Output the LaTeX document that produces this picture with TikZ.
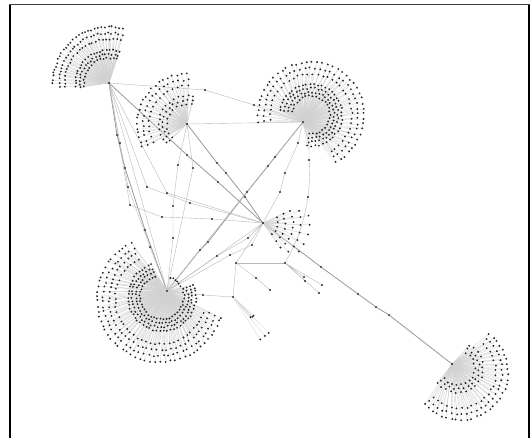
\documentclass[tikz,border=0pt]{standalone}
\usepackage{tikz}
\usetikzlibrary{calc, backgrounds}

% one arc of leaves round a hub
\newcommand{\fanrow}[6]{%
  \foreach \k in {1,...,#6}{%
    \pgfmathsetmacro{\ang}{(#4)+((#5)-(#4))*(\k-0.5)/(#6)+1.2*rand}%
    \pgfmathsetmacro{\rad}{(#3)+0.8*rand}%
    \node[dot] (leaf) at ($(#2)+(\ang:\rad)$) {};%
    \path[spoke] (#1) edge (leaf);%
  }%
}

\begin{document}
\begin{tikzpicture}[x=1pt, y=1pt]
\tikzstyle{dot}=[circle, fill=black!85, inner sep=0pt, minimum size=2.1pt]
\tikzstyle{hub}=[circle, fill=black, inner sep=0pt, minimum size=2.4pt]
\tikzstyle{spoke}=[-, draw=black!18, line width=0.3pt]
\tikzstyle{link}=[-, draw=black!28, line width=0.4pt]
\tikzstyle{trunk}=[-, draw=black!40, line width=0.8pt]

\pgfmathsetseed{7}
\useasboundingbox (0,0) rectangle (532,-438);
\draw[line width=2pt] (10,-438) -- (10,-4.5);
\draw[line width=2pt] (528.5,-4.5) -- (528.5,-438);
\draw[line width=1.2pt, black!75] (9,-4.5) -- (529.5,-4.5);

% hubs
\node (nw) [hub] at (109,-83) {};
\node (north) [hub] at (187,-124) {};
\node (ne) [hub] at (303,-122) {};
\node (sw) [hub] at (167,-291) {};
\node (se) [hub] at (452,-364) {};
\node (core) [hub] at (263,-223) {};

\coordinate (necen) at (311,-115);
\coordinate (swout) at (160,-299);
\coordinate (swin) at (162,-297);
\coordinate (seout) at (460,-372);
\coordinate (sein) at (458,-368);

% fans, outer rows first
\fanrow{nw}{nw}{56}{74}{182}{30}
\fanrow{nw}{nw}{50}{72}{186}{27}
\fanrow{nw}{nw}{44}{72}{188}{24}
\fanrow{nw}{nw}{33}{68}{190}{21}
\fanrow{nw}{nw}{29}{68}{192}{19}
\fanrow{nw}{nw}{25}{68}{192}{16}

\fanrow{north}{north}{50}{87}{210}{22}
\fanrow{north}{north}{44}{85}{212}{19}
\fanrow{north}{north}{38}{85}{212}{16}
\fanrow{north}{north}{28}{72}{228}{15}
\fanrow{north}{north}{24}{70}{230}{13}
\fanrow{north}{north}{20}{70}{230}{11}

\fanrow{ne}{necen}{53}{-65}{190}{44}
\fanrow{ne}{necen}{47}{-65}{190}{40}
\fanrow{ne}{necen}{41}{-65}{190}{36}
\fanrow{ne}{necen}{31}{-100}{175}{38}
\fanrow{ne}{necen}{27}{-100}{175}{34}
\fanrow{ne}{necen}{23}{-100}{175}{30}
\fanrow{ne}{necen}{19}{-100}{175}{26}

\fanrow{sw}{swout}{63}{115}{346}{50}
\fanrow{sw}{swout}{57}{115}{346}{46}
\fanrow{sw}{swout}{51}{115}{346}{42}
\fanrow{sw}{swout}{45}{115}{346}{38}
\fanrow{sw}{swin}{34}{105}{385}{46}
\fanrow{sw}{swin}{30}{105}{385}{42}
\fanrow{sw}{swin}{26}{105}{385}{38}
\fanrow{sw}{swin}{22}{105}{385}{34}
\fanrow{sw}{sw}{14}{15}{80}{6}

\fanrow{se}{seout}{48}{-140}{55}{32}
\fanrow{se}{seout}{42}{-140}{55}{28}
\fanrow{se}{seout}{36}{-140}{55}{24}
\fanrow{se}{sein}{25}{-150}{70}{18}
\fanrow{se}{sein}{21}{-150}{70}{16}
\fanrow{se}{sein}{17}{-150}{70}{14}

\fanrow{core}{core}{46}{-45}{15}{5}
\fanrow{core}{core}{38}{-55}{25}{7}
\fanrow{core}{core}{30}{-60}{30}{8}
\fanrow{core}{core}{22}{-60}{30}{7}
\fanrow{core}{core}{15}{-60}{30}{5}

% dots on the links
\node (w1) [dot] at (117,-135) {};
\node (w2) [dot] at (120,-143) {};
\node (w3) [dot] at (125,-168) {};
\node (w4) [dot] at (128,-187) {};
\node (w5) [dot] at (130,-205) {};
\node (w6) [dot] at (145,-230) {};
\node (w7) [dot] at (150,-247) {};
\node (d1) [dot] at (187,-155) {};
\node (d2) [dot] at (218,-182) {};
\node (e1) [dot] at (321,-267) {};
\node (e2) [dot] at (358,-294) {};
\node (e3) [dot] at (376,-307) {};
\node (e4) [dot] at (389,-315) {};
\node (t1) [dot] at (205,-90) {};
\node (t2) [dot] at (254,-105) {};
\node (b1) [dot] at (217,-163) {};
\node (b2) [dot] at (226,-173) {};
\node (b3) [dot] at (245,-197) {};
\node (c1) [dot] at (275,-157) {};
\node (c2) [dot] at (268,-166) {};
\node (c3) [dot] at (247,-192) {};
\node (c4) [dot] at (208,-242) {};
\node (c5) [dot] at (200,-250) {};
\node (f1) [dot] at (298,-143) {};
\node (f2) [dot] at (285,-173) {};
\node (f3) [dot] at (280,-192) {};
\node (r1) [dot] at (309,-160) {};
\node (r2) [dot] at (308,-197) {};
\node (j) [dot] at (285,-263) {};
\node (h) [dot] at (236,-263) {};
\node (g) [dot] at (233,-297) {};
\node (s1) [dot] at (203,-295) {};
\node (l1) [dot] at (147,-187) {};
\node (l2) [dot] at (190,-203) {};
\node (l3) [dot] at (162,-217) {};
\node (l4) [dot] at (212,-219) {};
\node (l5) [dot] at (167,-193) {};
\node (n1) [dot] at (178,-165) {};
\node (n2) [dot] at (173,-206) {};
\node (n3) [dot] at (173,-238) {};
\node (n4) [dot] at (193,-168) {};
\node (m1) [dot] at (217,-256) {};
\node (m2) [dot] at (230,-255) {};
\node (m3) [dot] at (248,-238) {};
\node (m4) [dot] at (252,-245) {};
\node (k1) [dot] at (304,-277) {};
\node (k2) [dot] at (305,-281) {};
\node (k3) [dot] at (322,-285) {};
\node (k4) [dot] at (319,-293) {};
\node (q1) [dot] at (256,-278) {};
\node (q2) [dot] at (270,-290) {};

\fanrow{g}{g}{50}{-60}{-42}{3}
\fanrow{g}{g}{27}{-50}{-40}{3}

% links
\begin{pgfonlayer}{background}
\draw[trunk] (nw) -- (w1) -- (w3) -- (w6) -- (sw);
\draw[link] (nw) -- (w2) -- (w4) -- (w7) -- (sw);
\draw[link] (nw) -- (w5);
\draw[link] (nw) -- (sw);
\draw[trunk] (nw) -- (d1) -- (d2) -- (core);
\draw[trunk] (core) -- (e1) -- (e2) -- (e3) -- (e4) -- (se);
\draw[link] (nw) -- (t1) -- (t2) -- (ne);
\draw[link] (north) -- (ne);
\draw[trunk] (north) -- (b1) -- (b2) -- (b3) -- (core);
\draw[trunk] (ne) -- (c1) -- (c2) -- (c3) -- (c4) -- (c5) -- (sw);
\draw[link] (ne) -- (sw);
\draw[link] (ne) -- (f1) -- (f2) -- (f3) -- (core);
\draw[link] (ne) to[bend left=10] (r1) to[bend left=5] (r2) to[bend left=10] (j);
\draw[link] (sw) -- (s1) -- (g);
\draw[link] (g) -- (h) -- (core);
\draw[link] (h) -- (j);
\draw[link] (j) -- (k1) (j) -- (k2) (j) -- (k3) (j) -- (k4);
\draw[link] (h) -- (q1) -- (q2);
\draw[link] (nw) -- (l1) -- (l2) -- (core);
\draw[link] (w5) -- (l3) -- (l4) -- (core);
\draw[link] (nw) -- (l5) -- (core);
\draw[link] (north) -- (n1) -- (n2) -- (n3) -- (sw);
\draw[link] (north) -- (n4) -- (sw);
\draw[link] (sw) -- (m1) -- (m3) -- (core);
\draw[link] (sw) -- (m2) -- (m4) -- (core);
\draw[link] (sw) -- (core);
\end{pgfonlayer}
\end{tikzpicture}
\end{document}
